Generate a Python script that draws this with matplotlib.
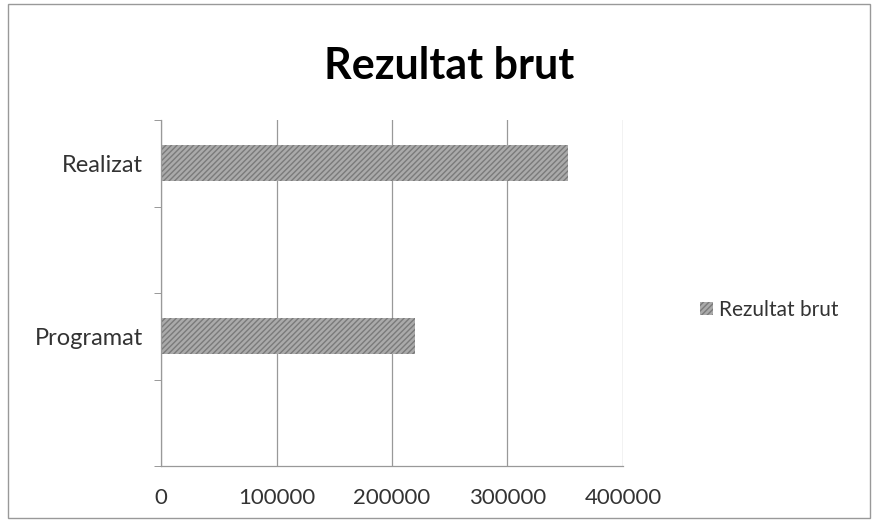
import matplotlib.pyplot as plt
from matplotlib.patches import Rectangle

categories = ["Programat", "Realizat"]
positions = [0, 2]
values = [220000, 352000]
series_name = "Rezultat brut"
x_ticks = [0, 100000, 200000, 300000, 400000]

plt.rcParams['font.family'] = ['Lato', 'DejaVu Sans']
plt.rcParams['hatch.color'] = '#6e6e6e'

fig = plt.figure(figsize=(8.78, 5.2), dpi=100)
ax = fig.add_axes([161 / 878, 1 - 466 / 520, 462 / 878, 346 / 520])

ax.barh(positions, values, height=0.42, color='#aaaaaa',
        hatch='//////', edgecolor='#7a7a7a', linewidth=0, label=series_name)

ax.set_xlim(0, 400000)
ax.set_ylim(-1.5, 2.5)
ax.set_xticks(x_ticks)
ax.set_xticklabels([str(t) for t in x_ticks], fontsize=16, color='#333333')
ax.set_yticks(positions)
ax.set_yticklabels(categories, fontsize=17, color='#333333')
ax.tick_params(axis='x', length=0, pad=16)
ax.tick_params(axis='y', length=0, pad=13)
ax.set_yticks([-1.5, -0.5, 0.5, 1.5, 2.5], minor=True)
ax.tick_params(axis='y', which='minor', length=5, color='#888888', direction='out')
ax.grid(True, axis='x', color='#999999', linewidth=0.9)
ax.set_axisbelow(True)

for side in ['top', 'right']:
    ax.spines[side].set_visible(False)
for side in ['left', 'bottom']:
    ax.spines[side].set_color('#999999')
    ax.spines[side].set_linewidth(0.9)

fig.text(449 / 878, 1 - 66 / 520, "Rezultat brut", ha='center', va='center',
         fontsize=31, fontweight='bold', color='black')

fig.legend(loc='center left', bbox_to_anchor=(692 / 878, 1 - 310 / 520), frameon=False,
           fontsize=15, handlelength=0.6, handleheight=0.6, handletextpad=0.3,
           borderaxespad=0, labelcolor='#333333')

fig.patches.append(Rectangle((8 / 878, 2 / 520), 862 / 878, 514 / 520,
                             transform=fig.transFigure, fill=False,
                             edgecolor='#999999', linewidth=1))

fig.savefig("out.png", dpi=100)
